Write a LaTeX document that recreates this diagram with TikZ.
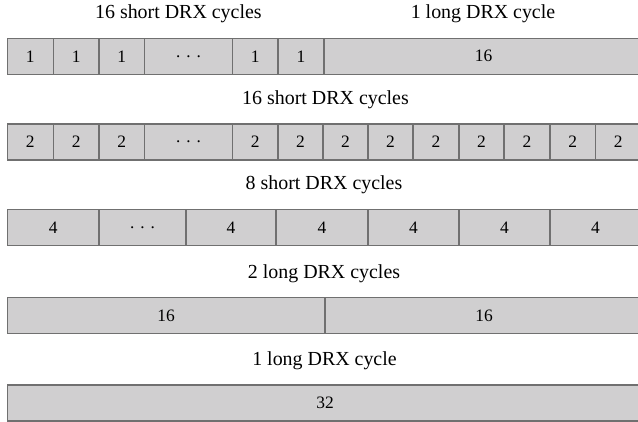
\documentclass[tikz,border=0pt]{standalone}
\usepackage{fontspec}
\setmainfont{Liberation Serif}
\definecolor{cellfill}{RGB}{208,207,208}
\definecolor{celledge}{RGB}{112,112,112}
\newcommand{\celldots}{\vphantom{1}\textperiodcentered\hspace{4.5bp}\textperiodcentered\hspace{4.5bp}\textperiodcentered}
\begin{document}
\begin{tikzpicture}[x=1bp,y=-1bp,
  cell/.style={draw=celledge, fill=cellfill, line width=1.2bp, inner sep=0pt,
    minimum height=36bp, font=\fontsize{17.5}{17.5}\selectfont},
  caption/.style={anchor=base, inner sep=0pt, font=\fontsize{20}{20}\selectfont}]
\useasboundingbox (0,0) rectangle (638,421);
\clip (0,0) rectangle (638,421);

% one bar: list of left/right edges and the text of each cell
\newcommand{\drxbar}[3]{%
  \foreach \xa/\xb/\txt [count=\k] in {#3} {
    \pgfmathsetmacro{\cw}{\xb-\xa}
    \node[cell, minimum width=\cw bp] (#1c\k) at ({(\xa+\xb)/2}, #2+18) {\txt};
  }}

% row 1: short cycles of length 1, then one long cycle
\node[caption] (lab1a) at (178.4,18.8) {16 short DRX cycles};
\node[caption] (lab1b) at (483,18.8) {1 long DRX cycle};
\drxbar{r1}{38.3}{7.3/53.3/1, 53.3/99/1, 99/144.7/1, 144.7/232.3/\celldots,
  232.3/278/1, 278/324/1, 324/643/16}

% row 2: cycles of length 2
\node[caption] (lab2) at (325.5,104) {16 short DRX cycles};
\drxbar{r2}{124}{7.3/53.3/2, 53.3/99/2, 99/144.7/2, 144.7/232.3/\celldots,
  232.3/278/2, 278/323/2, 323/368/2, 368/413/2, 413/459/2, 459/504/2,
  504/550/2, 550/595.3/2, 595.3/641/2}

% row 3: cycles of length 4
\node[caption] (lab3) at (324,189.8) {8 short DRX cycles};
\drxbar{r3}{209.3}{7.3/99/4, 99/186/\celldots, 186/276/4, 276/368/4,
  368/459/4, 459/550/4, 550/641/4}

% row 4: two long cycles
\node[caption] (lab4) at (324,278) {2 long DRX cycles};
\drxbar{r4}{297.7}{7.3/325/16, 325/643/16}

% row 5: one long cycle
\node[caption] (lab5) at (324.5,365.5) {1 long DRX cycle};
\drxbar{r5}{385}{7.3/643/32}
\end{tikzpicture}
\end{document}
